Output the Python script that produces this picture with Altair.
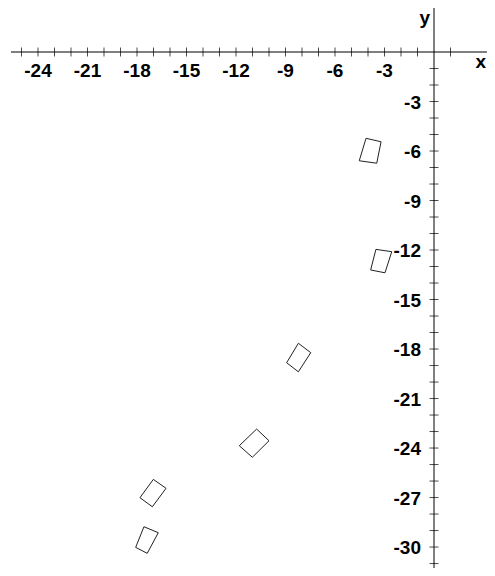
import altair as alt
import pandas as pd

# ---- data ----
x_tick_values = [v for v in range(-25, 2) if v != 0]
y_tick_values = list(range(-31, 0))
x_label_values = [-24, -21, -18, -15, -12, -9, -6, -3]
y_label_values = [-3, -6, -9, -12, -15, -18, -21, -24, -27, -30]

# quadrilateral vertices (data units)
shape_ids = [1, 2, 3, 4, 5, 6]
shape_xs = [
    [-4.12, -3.21, -3.47, -4.53],
    [-3.52, -2.56, -2.97, -3.84],
    [-8.22, -7.47, -8.22, -8.93],
    [-10.75, -10.00, -11.01, -11.80],
    [-17.01, -16.24, -17.07, -17.82],
    [-17.58, -16.71, -17.38, -18.08],
]
shape_ys = [
    [-5.23, -5.44, -6.74, -6.59],
    [-11.96, -12.10, -13.38, -13.21],
    [-17.65, -18.22, -19.38, -18.83],
    [-22.85, -23.56, -24.56, -23.86],
    [-25.90, -26.44, -27.56, -27.01],
    [-28.77, -29.13, -30.38, -30.02],
]

x_domain = [-25.818, 3.212]
y_domain = [-31.27, 2.667]
x_axis_start = -25.64

# ---- tables ----
rows = []
for sid, xs, ys in zip(shape_ids, shape_xs, shape_ys):
    pts = list(zip(xs, ys)) + [(xs[0], ys[0])]
    for i, (px, py) in enumerate(pts):
        rows.append({"shape": sid, "order": i, "x": px, "y": py})
shapes_df = pd.DataFrame(rows)
xt_df = pd.DataFrame({"v": x_tick_values})
yt_df = pd.DataFrame({"v": y_tick_values})
xl_df = pd.DataFrame({"v": x_label_values, "t": [str(v) for v in x_label_values]})
yl_df = pd.DataFrame({"v": y_label_values, "t": [str(v) for v in y_label_values]})

xs_ = alt.Scale(domain=x_domain, nice=False, zero=False)
ys_ = alt.Scale(domain=y_domain, nice=False, zero=False)

FONT = "Liberation Sans"
FS = 19

x_axis_line = alt.Chart(pd.DataFrame({"a": [0]})).mark_rule(color="black", strokeWidth=1).encode(
    x=alt.X(datum=x_axis_start, type="quantitative", scale=xs_, axis=None),
    x2=alt.datum(x_domain[1]),
    y=alt.Y(datum=0, type="quantitative", scale=ys_, axis=None),
)
y_axis_line = alt.Chart(pd.DataFrame({"a": [0]})).mark_rule(color="black", strokeWidth=1).encode(
    x=alt.X(datum=0, type="quantitative", scale=xs_, axis=None),
)

x_ticks = alt.Chart(xt_df).mark_tick(orient="vertical", size=9, thickness=1, color="black").encode(
    x=alt.X("v:Q", scale=xs_, axis=None),
    y=alt.Y(datum=0, type="quantitative", scale=ys_, axis=None),
)
y_ticks = alt.Chart(yt_df).mark_tick(orient="horizontal", size=9, thickness=1, color="black").encode(
    y=alt.Y("v:Q", scale=ys_, axis=None),
    x=alt.X(datum=0, type="quantitative", scale=xs_, axis=None),
)

x_labels = alt.Chart(xl_df).mark_text(
    font=FONT, fontSize=FS, fontWeight="bold", color="black", align="center", baseline="middle", dy=19
).encode(
    x=alt.X("v:Q", scale=xs_, axis=None),
    y=alt.Y(datum=0, type="quantitative", scale=ys_, axis=None),
    text="t:N",
)
y_labels = alt.Chart(yl_df).mark_text(
    font=FONT, fontSize=FS, fontWeight="bold", color="black", align="right", baseline="middle", dx=-13, dy=1
).encode(
    y=alt.Y("v:Q", scale=ys_, axis=None),
    x=alt.X(datum=0, type="quantitative", scale=xs_, axis=None),
    text="t:N",
)

x_title = alt.Chart(pd.DataFrame({"t": ["x"]})).mark_text(
    font=FONT, fontSize=FS, fontWeight="bold", color="black", align="right", baseline="middle", dy=10
).encode(
    x=alt.value(478),
    y=alt.Y(datum=0, type="quantitative", scale=ys_, axis=None),
    text="t:N",
)
y_title = alt.Chart(pd.DataFrame({"t": ["y"]})).mark_text(
    font=FONT, fontSize=FS, fontWeight="bold", color="black", align="right", baseline="middle", dx=-4
).encode(
    x=alt.X(datum=0, type="quantitative", scale=xs_, axis=None),
    y=alt.value(10),
    text="t:N",
)

shapes = alt.Chart(shapes_df).mark_line(color="#222222", strokeWidth=1).encode(
    x=alt.X("x:Q", scale=xs_, axis=None),
    y=alt.Y("y:Q", scale=ys_, axis=None),
    detail="shape:N",
    order="order:Q",
)

chart = alt.layer(
    x_axis_line, y_axis_line, x_ticks, y_ticks, x_labels, y_labels, x_title, y_title, shapes
).properties(
    width=479, height=560, autosize=alt.AutoSizeParams(type="none"), padding=0
).configure_view(stroke=None)

chart.save("out.html", embed_options={"renderer": "svg", "actions": False})
